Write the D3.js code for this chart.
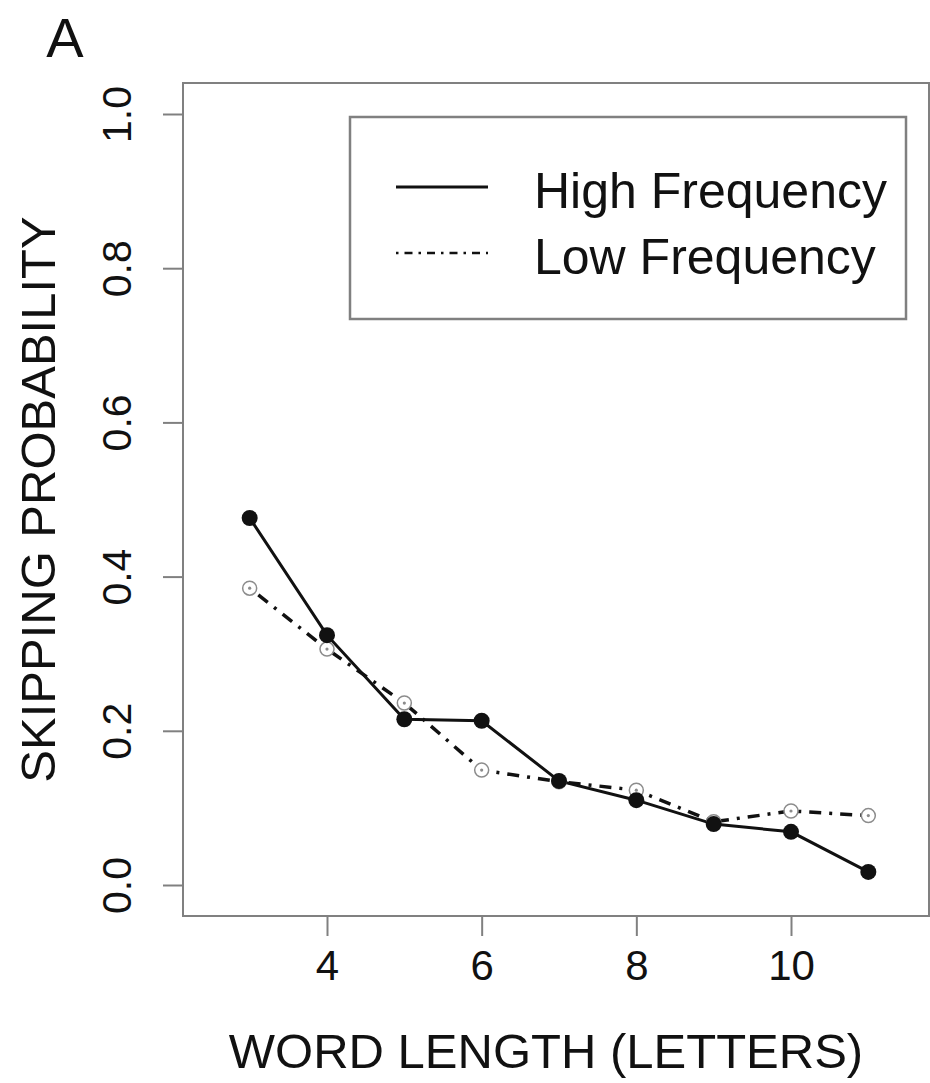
<!DOCTYPE html>
<html lang="en">
<head>
    <meta charset="UTF-8">
    <title>Skipping probability by word length</title>
    <style>
        body { margin: 0; padding: 0; background: #fff; }
        svg { display: block; font-family: "Liberation Sans", Arial, sans-serif; }
    </style>
</head>
<body>
    <div id="chart"></div>
    <script src="https://d3js.org/d3.v7.min.js"></script>
    <script>
        // values
        const wordLength = [3, 4, 5, 6, 7, 8, 9, 10, 11];
        const highFreq = [0.476, 0.324, 0.215, 0.213, 0.135, 0.110, 0.079, 0.069, 0.017];
        const lowFreq = [0.385, 0.306, 0.236, 0.149, 0.134, 0.123, 0.082, 0.096, 0.090];
        const xTicks = [4, 6, 8, 10];
        const yTicks = [0.0, 0.2, 0.4, 0.6, 0.8, 1.0];
        const seriesNames = ['High Frequency', 'Low Frequency'];

        const W = 930, H = 1083;
        const box = { left: 183, top: 83, right: 929, bottom: 916 };
        const grey = '#808080';
        const ink = '#111';

        const svg = d3.select('#chart').append('svg')
            .attr('width', W)
            .attr('height', H);

        const x = d3.scaleLinear().domain([4, 10]).range([327, 791]);
        const y = d3.scaleLinear().domain([0, 1]).range([885, 114]);

        // plot frame
        svg.append('rect')
            .attr('x', box.left).attr('y', box.top)
            .attr('width', box.right - box.left)
            .attr('height', box.bottom - box.top)
            .attr('fill', 'none')
            .attr('stroke', grey)
            .attr('stroke-width', 2);

        // axes, R style
        const xAxis = svg.append('g')
            .attr('transform', `translate(0,${box.bottom})`)
            .call(d3.axisBottom(x).tickValues(xTicks).tickSize(20).tickPadding(14).tickFormat(d3.format('d')));
        xAxis.select('.domain').remove();
        xAxis.selectAll('line').attr('stroke', grey).attr('stroke-width', 2);
        xAxis.selectAll('text').attr('font-size', 42).attr('fill', ink);

        const yAxis = svg.append('g')
            .attr('transform', `translate(${box.left},0)`)
            .call(d3.axisLeft(y).tickValues(yTicks).tickSize(20).tickFormat(d3.format('.1f')));
        yAxis.select('.domain').remove();
        yAxis.selectAll('line').attr('stroke', grey).attr('stroke-width', 2);
        yAxis.selectAll('text')
            .attr('font-size', 41)
            .attr('fill', ink)
            .attr('text-anchor', 'middle')
            .attr('x', 0).attr('dy', 0)
            .attr('transform', 'translate(-52,0) rotate(-90)');

        // axis titles
        svg.append('text')
            .attr('x', 546).attr('y', 1068)
            .attr('text-anchor', 'middle')
            .attr('font-size', 49)
            .attr('fill', ink)
            .text('WORD LENGTH (LETTERS)');

        svg.append('text')
            .attr('transform', `translate(55,${(box.top + box.bottom) / 2}) rotate(-90)`)
            .attr('text-anchor', 'middle')
            .attr('font-size', 49)
            .attr('fill', ink)
            .text('SKIPPING PROBABILITY');

        svg.append('text')
            .attr('x', 65).attr('y', 57)
            .attr('text-anchor', 'middle')
            .attr('font-size', 56)
            .attr('fill', ink)
            .text('A');

        const line = d3.line()
            .x((d, i) => x(wordLength[i]))
            .y(d => y(d));

        // low frequency: dot-dash line, open grey circles
        svg.append('path')
            .datum(lowFreq)
            .attr('fill', 'none')
            .attr('stroke', ink)
            .attr('stroke-width', 3.5)
            .attr('stroke-dasharray', '3,8,12,8')
            .attr('d', line);

        // high frequency: solid line, filled circles
        svg.append('path')
            .datum(highFreq)
            .attr('fill', 'none')
            .attr('stroke', ink)
            .attr('stroke-width', 3)
            .attr('d', line);

        svg.selectAll('circle.lf')
            .data(lowFreq)
            .join('circle')
            .attr('class', 'lf')
            .attr('cx', (d, i) => x(wordLength[i]))
            .attr('cy', d => y(d))
            .attr('r', 7)
            .attr('fill', '#fff')
            .attr('stroke', '#8c8c8c')
            .attr('stroke-width', 1.5);

        svg.selectAll('circle.lfdot')
            .data(lowFreq)
            .join('circle')
            .attr('class', 'lfdot')
            .attr('cx', (d, i) => x(wordLength[i]))
            .attr('cy', d => y(d))
            .attr('r', 1.6)
            .attr('fill', '#8c8c8c');

        svg.selectAll('circle.hf')
            .data(highFreq)
            .join('circle')
            .attr('class', 'hf')
            .attr('cx', (d, i) => x(wordLength[i]))
            .attr('cy', d => y(d))
            .attr('r', 8)
            .attr('fill', ink);

        // legend
        const legend = svg.append('g');
        legend.append('rect')
            .attr('x', 350).attr('y', 117)
            .attr('width', 556).attr('height', 202)
            .attr('fill', '#fff')
            .attr('stroke', grey)
            .attr('stroke-width', 2.5);

        const legendY = [187, 253];
        seriesNames.forEach((name, i) => {
            legend.append('line')
                .attr('x1', 396).attr('x2', 488)
                .attr('y1', legendY[i]).attr('y2', legendY[i])
                .attr('stroke', ink)
                .attr('stroke-width', i === 0 ? 3 : 2.5)
                .attr('stroke-dasharray', i === 0 ? null : '2.5,6,8,6');
            legend.append('text')
                .attr('x', 534).attr('y', legendY[i] + 21)
                .attr('font-size', 50)
                .attr('fill', ink)
                .text(name);
        });
    </script>
</body>
</html>
